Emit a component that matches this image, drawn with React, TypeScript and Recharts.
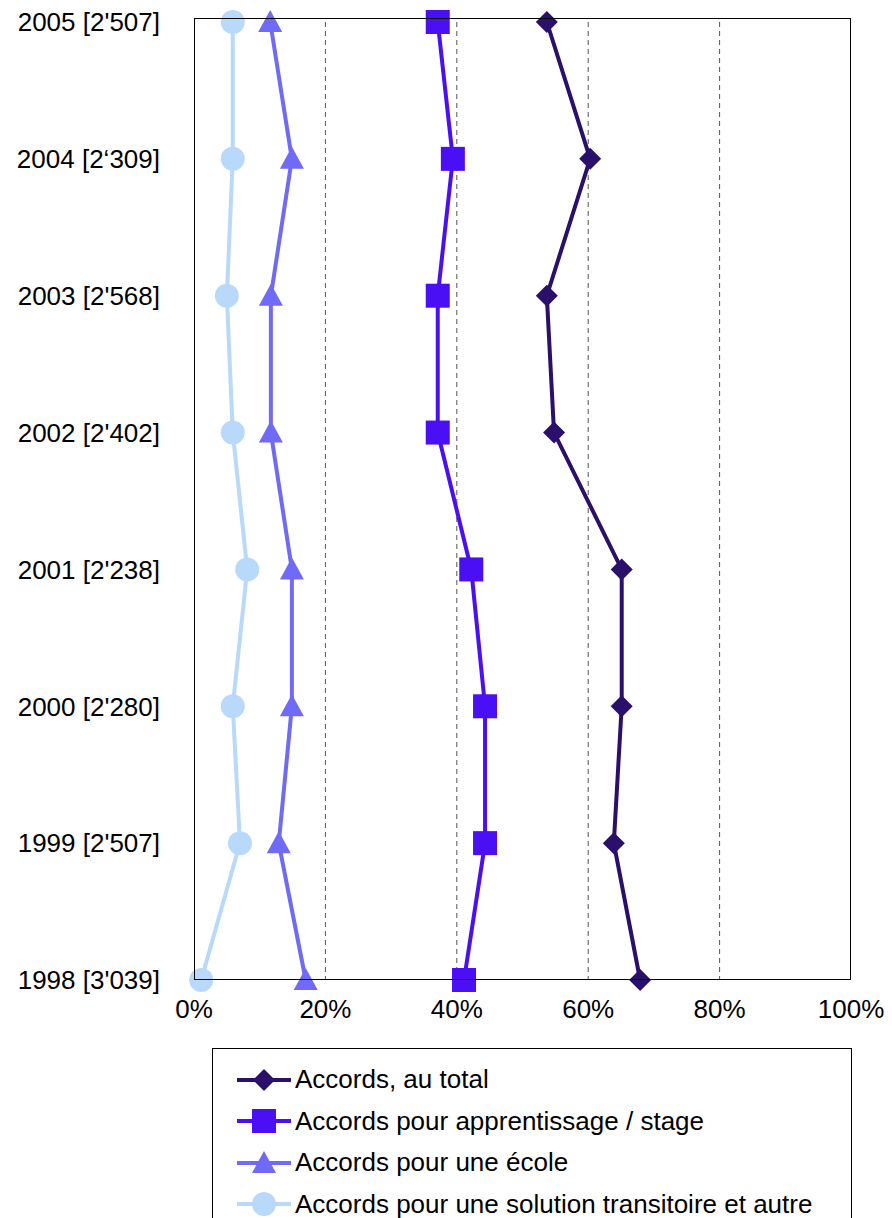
import React from 'react';
import { LineChart, Line, XAxis, YAxis, CartesianGrid } from 'recharts';

const categories = ["2005 [2'507]", "2004 [2‘309]", "2003 [2'568]", "2002 [2'402]", "2001 [2'238]", "2000 [2'280]", "1999 [2'507]", "1998 [3'039]"];
const total = [53.7, 60.3, 53.7, 54.8, 65.1, 65.1, 63.9, 67.9];
const apprent = [37.1, 39.4, 37.1, 37.1, 42.2, 44.3, 44.3, 41.1];
const ecole = [11.6, 14.9, 11.7, 11.7, 14.9, 14.9, 12.9, 17.0];
const transit = [5.9, 5.9, 5.0, 5.9, 8.1, 5.9, 7.0, 1.1];
const xTicks = [0, 20, 40, 60, 80, 100];

const data = categories.map((c, i) => ({ cat: c, total: total[i], apprent: apprent[i], ecole: ecole[i], transit: transit[i] }));

const C = { total: '#2a0f6b', apprent: '#4b0ff5', ecole: '#6f6af7', transit: '#b9d9fb' };

const shape = (kind: string, cx: number, cy: number, color: string, key?: any) => {
  if (kind === 'diamond') return <polygon key={key} points={`${cx},${cy - 11} ${cx + 11},${cy} ${cx},${cy + 11} ${cx - 11},${cy}`} fill={color} />;
  if (kind === 'square') return <rect key={key} x={cx - 12} y={cy - 12} width={24} height={24} fill={color} />;
  if (kind === 'triangle') return <polygon key={key} points={`${cx},${cy - 12} ${cx + 12},${cy + 10} ${cx - 12},${cy + 10}`} fill={color} />;
  return <circle key={key} cx={cx} cy={cy} r={12} fill={color} />;
};
const dotFn = (kind: string, color: string) => (p: any) => shape(kind, p.cx, p.cy, color, p.index);

const font = '"Liberation Sans", Arial, sans-serif';
const legend = [
  { label: 'Accords, au total', kind: 'diamond', color: C.total },
  { label: 'Accords pour apprentissage / stage', kind: 'square', color: C.apprent },
  { label: 'Accords pour une école', kind: 'triangle', color: C.ecole },
  { label: 'Accords pour une solution transitoire et autre', kind: 'circle', color: C.transit },
];

export default function App() {
  return (
    <div style={{ position: 'relative', width: 876, height: 1210, fontFamily: font }}>
      <LineChart width={876} height={1040} data={data} layout="vertical" margin={{ top: 14, right: 33, bottom: 38, left: 0 }}>
        <CartesianGrid horizontal={false} stroke="#555" strokeDasharray="5 4" verticalValues={[20, 40, 60, 80]} />
        <XAxis type="number" domain={[0, 100]} ticks={xTicks} tickFormatter={(v) => `${v}%`} height={30} tickLine={false} axisLine={false} tick={{ fill: '#000', fontSize: 26, fontFamily: font }} tickMargin={14} />
        <YAxis type="category" dataKey="cat" scale="point" interval={0} padding={{ top: 0, bottom: 0 }} width={186} tickLine={false} axisLine={false} tick={{ fill: '#000', fontSize: 26, fontFamily: font }} tickMargin={28} />
        <Line dataKey="transit" stroke={C.transit} strokeWidth={4} dot={dotFn('circle', C.transit)} isAnimationActive={false} />
        <Line dataKey="ecole" stroke={C.ecole} strokeWidth={4} dot={dotFn('triangle', C.ecole)} isAnimationActive={false} />
        <Line dataKey="apprent" stroke={C.apprent} strokeWidth={4} dot={dotFn('square', C.apprent)} isAnimationActive={false} />
        <Line dataKey="total" stroke={C.total} strokeWidth={4} dot={dotFn('diamond', C.total)} isAnimationActive={false} />
      </LineChart>
      <div style={{ position: 'absolute', left: 186, top: 10, width: 657, height: 962, border: '1.5px solid #000', boxSizing: 'border-box', pointerEvents: 'none' }} />
      <div style={{ position: 'absolute', left: 204, top: 1040, width: 640, height: 180, border: '1.5px solid #000', boxSizing: 'border-box', paddingTop: 10 }}>
        {legend.map((l) => (
          <div key={l.label} style={{ display: 'flex', alignItems: 'center', height: 41.5, fontSize: 26 }}>
            <svg width={62} height={30} style={{ marginLeft: 20 }}>
              <line x1={4} y1={15} x2={58} y2={15} stroke={l.color} strokeWidth={4} />
              {shape(l.kind, 31, 15, l.color)}
            </svg>
            <span style={{ marginLeft: 0 }}>{l.label}</span>
          </div>
        ))}
      </div>
    </div>
  );
}
